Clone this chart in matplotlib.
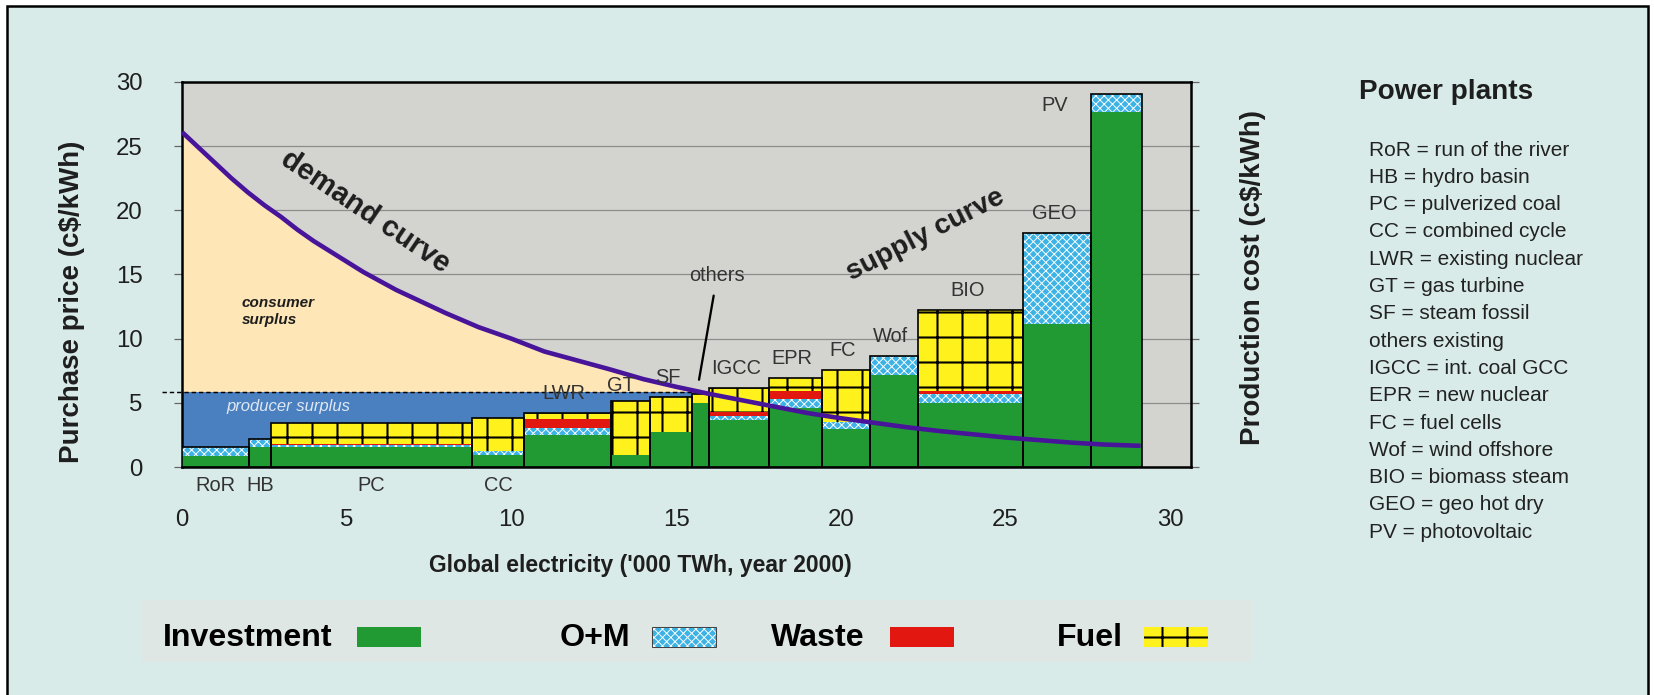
"""
Supply / demand curve of global electricity production cost by plant type.
Stacked cost bars (investment, O+M, waste, fuel) with a demand curve on top.
"""
import numpy as np
import matplotlib
matplotlib.use("Agg")
import matplotlib.pyplot as plt
from matplotlib.patches import Rectangle

W, H, DPI = 1654, 695, 150

# --- data ----------------------------------------------------------------
plants = ["RoR", "HB", "PC", "CC", "LWR", "GT", "SF", "others", "IGCC",
          "EPR", "FC", "Wof", "BIO", "GEO", "PV"]
widths = [2.04, 0.66, 6.11, 1.58, 2.62, 1.21, 1.27, 0.51, 1.83,
          1.59, 1.47, 1.44, 3.21, 2.05, 1.54]
investment = [0.84, 1.52, 1.57, 0.92, 2.53, 0.90, 2.69, 5.02, 3.64,
              4.60, 2.94, 7.15, 4.99, 11.18, 27.66]
om = [0.73, 0.70, 0.13, 0.31, 0.52, 0.0, 0.0, 0.0, 0.34,
      0.73, 0.57, 1.48, 0.66, 7.05, 1.43]
waste = [0.0, 0.0, 0.08, 0.0, 0.67, 0.0, 0.0, 0.0, 0.31,
         0.63, 0.0, 0.0, 0.25, 0.0, 0.0]
fuel = [0.0, 0.0, 1.65, 2.59, 0.49, 4.26, 2.77, 0.70, 1.87,
        0.98, 4.03, 0.0, 6.37, 0.0, 0.0]

demand_x = [0, 0.5, 1, 1.5, 2, 2.5, 3, 3.5, 4, 4.5, 5, 5.5, 6, 6.5, 7,
            8, 9, 10, 11, 12, 13, 14, 15, 16, 17, 18, 19, 20, 21, 22, 23,
            24, 25, 26, 27, 28, 29.1]
demand_y = [26.1, 24.9, 23.7, 22.5, 21.4, 20.4, 19.5, 18.5, 17.6, 16.8,
            16.0, 15.2, 14.5, 13.8, 13.2, 12.0, 10.9, 10.0, 9.0, 8.3, 7.6,
            6.85, 6.25, 5.7, 5.2, 4.7, 4.2, 3.8, 3.45, 3.1, 2.8, 2.55, 2.3,
            2.1, 1.9, 1.75, 1.65]
price = 5.83

x_ticks = [0, 5, 10, 15, 20, 25, 30]
y_ticks = [0, 5, 10, 15, 20, 25, 30]

legend_names = ["RoR = run of the river", "HB = hydro basin",
                "PC = pulverized coal", "CC = combined cycle",
                "LWR = existing nuclear", "GT = gas turbine",
                "SF = steam fossil", "others existing",
                "IGCC = int. coal GCC", "EPR = new nuclear",
                "FC = fuel cells", "Wof = wind offshore",
                "BIO = biomass steam", "GEO = geo hot dry",
                "PV = photovoltaic"]

# --- colours ---------------------------------------------------------------
BG = "#d8ebe9"
PANEL = "#dfe7e5"
AX_BG = "#d3d4d0"
GREEN = "#229a34"
CYAN = "#3cb3e4"
RED = "#e2170f"
YELLOW = "#fff21c"
PEACH = "#fee6b6"
BLUE = "#4a7fc0"
PURPLE = "#47149a"
TXT = "#1e1e1e"

plt.rcParams["font.family"] = ["Liberation Sans", "DejaVu Sans"]
plt.rcParams["hatch.linewidth"] = 1.0
NARROW = ["Liberation Sans Narrow", "Liberation Sans", "DejaVu Sans"]
OM_HATCH = "xxxxxx"


def fx(px):
    return px / W


def fy(py):
    return 1 - py / H


fig = plt.figure(figsize=(W / DPI, H / DPI), dpi=DPI, facecolor="white")

# outer framed panel and legend strip
fig.add_artist(Rectangle((fx(6.5), -0.05), fx(1647.5) - fx(6.5), fy(6.5) + 0.05,
                         transform=fig.transFigure, facecolor=BG,
                         edgecolor="black", lw=1.2, zorder=-10))
fig.add_artist(Rectangle((fx(142), fy(662)), fx(1252) - fx(142), (662 - 600) / H,
                         transform=fig.transFigure, facecolor=PANEL,
                         edgecolor="none", zorder=-9))

ax = fig.add_axes([fx(182), fy(467), fx(1191) - fx(182), (467 - 82) / H])
ax.set_facecolor(AX_BG)
ax.set_xlim(0, 30.63)
ax.set_ylim(0, 30)
ax.set_axisbelow(True)
ax.yaxis.grid(True, color="#8c8c8c", lw=0.6)
for sp in ax.spines.values():
    sp.set_linewidth(1.2)

ax.set_xticks(x_ticks)
ax.set_yticks(y_ticks)
ax.tick_params(axis="y", direction="out", length=4, width=0.6, left=True,
               right=True, labelright=False, pad=15, labelsize=11.5,
               labelcolor=TXT, color="#666666")
ax.tick_params(axis="x", length=0, pad=20, labelsize=11.5, labelcolor=TXT)

# --- surplus areas and price line -----------------------------------------
dx = np.array(demand_x)
dy = np.array(demand_y)
x_eq = float(np.interp(price, dy[::-1], dx[::-1]))
ax.fill_between(dx, price, dy, where=dy >= price, interpolate=True,
                color=PEACH, lw=0, zorder=1)
ax.fill_between([0, x_eq], 0, price, color=BLUE, lw=0, zorder=1)
ax.plot([-0.62, x_eq], [price, price], ls=(0, (3, 2)), color="black",
        lw=0.7, clip_on=False, zorder=5)

# --- stacked cost bars -----------------------------------------------------
w = np.array(widths)
left = np.concatenate([[0], np.cumsum(w)[:-1]])
base = np.zeros(len(plants))

ax.bar(left, investment, width=w, bottom=base, align="edge", color=GREEN,
       lw=0, zorder=3)
base += np.array(investment)
with plt.rc_context({"hatch.linewidth": 0.45}):
    ax.bar(left, om, width=w, bottom=base, align="edge", facecolor=CYAN,
           edgecolor="white", hatch=OM_HATCH, lw=0, zorder=3)
base += np.array(om)
ax.bar(left, waste, width=w, bottom=base, align="edge", color=RED,
       lw=0, zorder=3)
base += np.array(waste)
ax.bar(left, fuel, width=w, bottom=base, align="edge", facecolor=YELLOW,
       edgecolor="black", hatch="+", lw=0, zorder=3)
base += np.array(fuel)
ax.bar(left, base, width=w, align="edge", fill=False, edgecolor="black",
       lw=0.8, zorder=4)

# demand curve
ax.plot(dx, dy, color=PURPLE, lw=2.2, zorder=6, solid_capstyle="butt",
        solid_joinstyle="round")

# --- plant labels ----------------------------------------------------------
centers = left + w / 2
for i, name in enumerate(plants):
    if name == "others":
        ax.annotate(name, xy=(centers[i] - 0.05, 6.8),
                    xytext=(centers[i] + 0.5, 14.9), ha="center", va="center",
                    fontsize=9.6, family=NARROW, color="#333333",
                    arrowprops=dict(arrowstyle="-", lw=1.1, color="black",
                                    shrinkA=3, shrinkB=0), zorder=7)
        continue
    if i < 4:
        x, y = centers[i], -1.42
    elif name == "PV":
        x, y = left[i] - 1.1, base[i] - 0.9
    elif name == "GT":
        x, y = left[i] + 0.3, base[i] + 1.2
    else:
        x, y = centers[i] - 0.1, base[i] + 1.5
    ax.text(x, y, name, ha="center", va="center", fontsize=9.6,
            family=NARROW, color="#333333", zorder=7, clip_on=False)

# --- annotations -----------------------------------------------------------
ax.text(5.56, 19.9, "demand curve", rotation=-34, ha="center", va="center",
        fontsize=14, fontweight="bold", color=TXT, zorder=7)
ax.text(22.56, 18.1, "supply curve", rotation=27, ha="center", va="center",
        fontsize=13.5, fontweight="bold", color=TXT, zorder=7)
ax.text(1.81, 12.1, "consumer\nsurplus", ha="left", va="center",
        fontsize=7.3, fontweight="bold", style="italic", color=TXT,
        linespacing=1.3, zorder=7)
ax.text(1.36, 4.68, "producer surplus", ha="left", va="center",
        fontsize=8, style="italic", color="#dfe8f2", zorder=7)

# --- axis titles -------------------------------------------------------------
fig.text(fx(72), fy(302), "Purchase price (c$/kWh)", rotation=90,
         ha="center", va="center", fontsize=13.3, fontweight="bold",
         color=TXT)
fig.text(fx(1253), fy(277), "Production cost (c$/kWh)", rotation=90,
         ha="center", va="center", fontsize=13.3, fontweight="bold",
         color=TXT)
fig.text(fx(640), fy(565), "Global electricity ('000 TWh, year 2000)",
         ha="center", va="center", fontsize=11, fontweight="bold",
         color=TXT)

# --- plant key on the right ---------------------------------------------------
fig.text(fx(1359), fy(92), "Power plants", ha="left", va="center",
         fontsize=13.4, fontweight="bold", color=TXT)
for i, line in enumerate(legend_names):
    fig.text(fx(1369), fy(150 + i * 27.3), line, ha="left", va="center",
             fontsize=10, color="#222222")

# --- cost component legend ------------------------------------------------
legend_items = [
    ("Investment", 163, 357, dict(facecolor=GREEN, edgecolor="none")),
    ("O+M", 560, 652, dict(facecolor=CYAN, edgecolor="white", hatch=OM_HATCH)),
    ("Waste", 771, 890, dict(facecolor=RED, edgecolor="none")),
    ("Fuel", 1057, 1144, dict(facecolor=YELLOW, edgecolor="black", hatch="+")),
]
for label, tx, px, style in legend_items:
    fig.text(fx(tx), fy(638), label, ha="left", va="center", fontsize=15.4,
             fontweight="bold", color="black")
    with plt.rc_context({"hatch.linewidth": 0.45 if label == "O+M" else 1.0}):
        fig.add_artist(Rectangle((fx(px), fy(647)), fx(64), 20 / H,
                                 transform=fig.transFigure, lw=0, **style))
fig.add_artist(Rectangle((fx(652), fy(647)), fx(64), 20 / H,
                         transform=fig.transFigure, fill=False,
                         edgecolor="#444444", lw=0.5))

fig.savefig("out.png", dpi=DPI, facecolor=fig.get_facecolor())
